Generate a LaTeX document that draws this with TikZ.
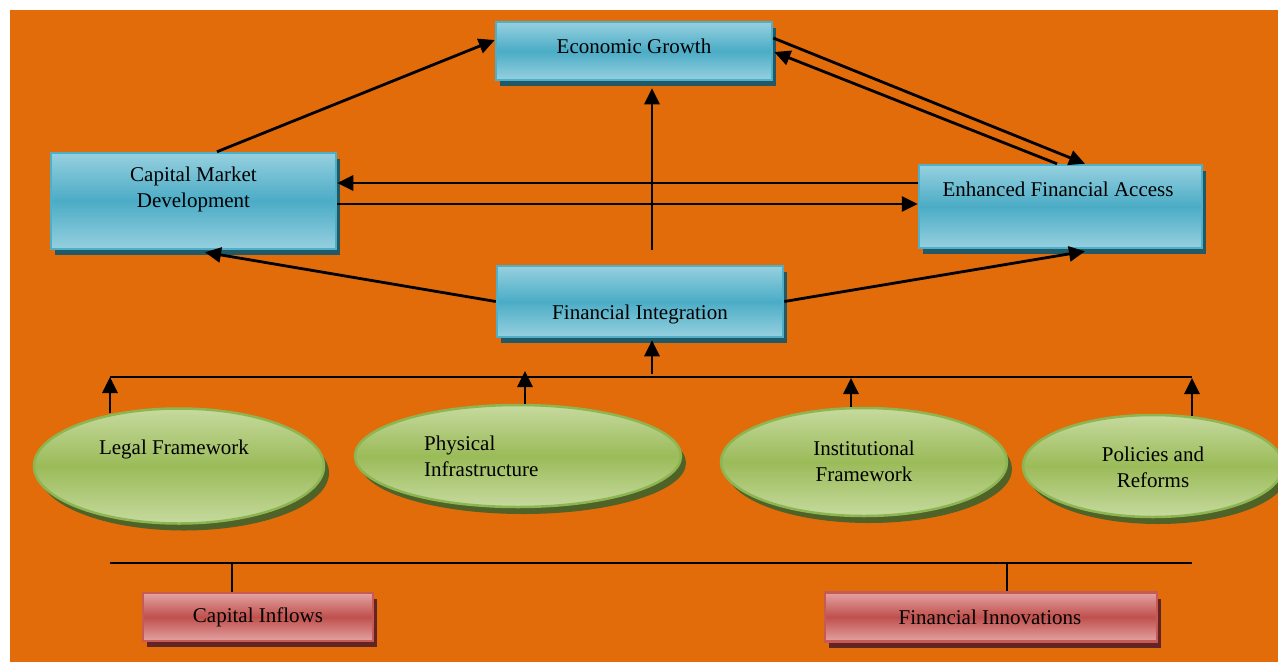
\documentclass[tikz,border=0pt]{standalone}
\usepackage{fontspec}
\setmainfont{Liberation Serif}
\usetikzlibrary{arrows.meta,shapes.geometric}
\definecolor{bgorange}{HTML}{E36C0A}
\definecolor{bluelight}{HTML}{96D0DF}
\definecolor{bluemid}{HTML}{4BACC6}
\definecolor{bluebord}{HTML}{4EAFC8}
\definecolor{blueshadow}{HTML}{215967}
\definecolor{redlight}{HTML}{E3A3A2}
\definecolor{redmid}{HTML}{C0504D}
\definecolor{redbord}{HTML}{C55A57}
\definecolor{redshadow}{HTML}{632523}
\definecolor{greenlight}{HTML}{C6DA9E}
\definecolor{greenmid}{HTML}{9BBB59}
\definecolor{greenbord}{HTML}{8DB652}
\definecolor{greenshadow}{HTML}{4F6228}
\tikzset{
  bluebox/.style={rectangle, inner sep=0pt, draw=bluebord, line width=2.5pt,
    top color=bluelight, bottom color=bluelight, middle color=bluemid,
    preaction={fill=blueshadow, transform canvas={xshift=4pt, yshift=-6pt}}},
  redbox/.style={rectangle, inner sep=0pt, draw=redbord, line width=2.5pt,
    top color=redlight, bottom color=redlight, middle color=redmid,
    preaction={fill=redshadow, transform canvas={xshift=4pt, yshift=-6pt}}},
  greenell/.style={ellipse, inner sep=0pt, draw=greenbord, line width=2.5pt,
    top color=greenlight, bottom color=greenlight, middle color=greenmid,
    preaction={fill=greenshadow, transform canvas={xshift=5pt, yshift=-7pt}}},
  txt/.style={inner sep=0pt, align=center, font=\fontsize{21}{26}\selectfont, text=black},
  arr/.style={line width=2.8pt, -{Triangle[length=16pt,width=15pt]}},
  ln/.style={line width=2.8pt},
}
\begin{document}
\begin{tikzpicture}[x=1pt,y=-1pt]
\useasboundingbox (0,0) rectangle (1278,662);
\fill[white] (0,0) rectangle (1278,662);
\fill[bgorange] (10,10) rectangle (1278,662);

% boxes
\node[bluebox, minimum width=276pt, minimum height=58pt] (eg) at (634,51) {};
\node[txt] (egt) at (634,46) {Economic Growth};
\node[bluebox, minimum width=285pt, minimum height=96pt] (cmd) at (193.5,201) {};
\node[txt] (cmdt) at (193.5,189) {Capital Market\\Development};
\node[bluebox, minimum width=283pt, minimum height=83pt] (efa) at (1060.5,206.5) {};
\node[txt] (efat) at (1058,189) {Enhanced Financial Access};
\node[bluebox, minimum width=286pt, minimum height=71pt] (fi) at (640,301.5) {};
\node[txt] (fit) at (640,314) {Financial Integration};

% ellipses
\node[greenell, minimum width=290pt, minimum height=115pt] (lf) at (179,466) {};
\node[txt] (lft) at (174,449) {Legal Framework};
\node[greenell, minimum width=326pt, minimum height=102pt] (pi) at (518,456) {};
\node[txt, align=left, anchor=west] (pit) at (424,456) {Physical\\Infrastructure};
\node[greenell, minimum width=286pt, minimum height=108pt] (inf) at (864,462) {};
\node[txt] (inft) at (864,461) {Institutional\\Framework};
\node[greenell, minimum width=260pt, minimum height=102pt] (pr) at (1153,466) {};
\node[txt] (prt) at (1153,467) {Policies and\\Reforms};

% red boxes
\node[redbox, minimum width=230pt, minimum height=48pt] (ci) at (258,617) {};
\node[txt] (cit) at (258,617) {Capital Inflows};
\node[redbox, minimum width=332pt, minimum height=49pt] (fin) at (991,617) {};
\node[txt] (fint) at (990,617) {Financial Innovations};

% bus lines
\coordinate (busL) at (110,377);
\coordinate (busR) at (1192,377);
\coordinate (b1) at (110,377);
\coordinate (b2) at (525,371);
\coordinate (b3) at (851,378);
\coordinate (b4) at (1192,378);
\coordinate (bfi) at (652,374);
\draw[ln] (busL) -- (busR);
\draw[arr] ([xshift=-69pt,yshift=-6pt]lf.north) -- (b1);
\draw[arr] ([xshift=7pt]pi.north) -- (b2);
\draw[arr] ([xshift=-13pt]inf.north) -- (b3);
\draw[arr] ([xshift=39pt,yshift=-2pt]pr.north) -- (b4);
\draw[arr] (bfi) -- ([xshift=12pt,yshift=-2pt]fi.south);

% upper connectors
\draw[arr] ([xshift=12pt,yshift=15pt]fi.north) -- ([xshift=18pt,yshift=-7pt]eg.south);
\draw[arr] (fi.west) -- ([xshift=11.5pt,yshift=-2pt]cmd.south);
\draw[arr] (fi.east) -- ([xshift=24.5pt,yshift=-2pt]efa.south);
\draw[arr] ([xshift=23.5pt]cmd.north) -- ([yshift=11pt]eg.west);
\draw[arr] ([yshift=13pt]eg.east) -- ([xshift=24.5pt]efa.north);
\draw[arr] ([xshift=-3.5pt]efa.north) -- ([yshift=-1pt,xshift=1pt]eg.east);
\draw[arr] ([yshift=23.5pt]efa.west) -- ([yshift=18pt]cmd.east);
\draw[arr] ([yshift=-3pt]cmd.east) -- ([yshift=2.5pt]efa.west);

% bottom bus
\coordinate (bbL) at (110,563);
\coordinate (bbR) at (1192,563);
\coordinate (bci) at (232,563);
\coordinate (bfin) at (1007,563);
\draw[ln] (bbL) -- (bbR);
\draw[ln] (bci) -- ([xshift=-26pt]ci.north);
\draw[ln] (bfin) -- ([xshift=16pt]fin.north);
\end{tikzpicture}
\end{document}
